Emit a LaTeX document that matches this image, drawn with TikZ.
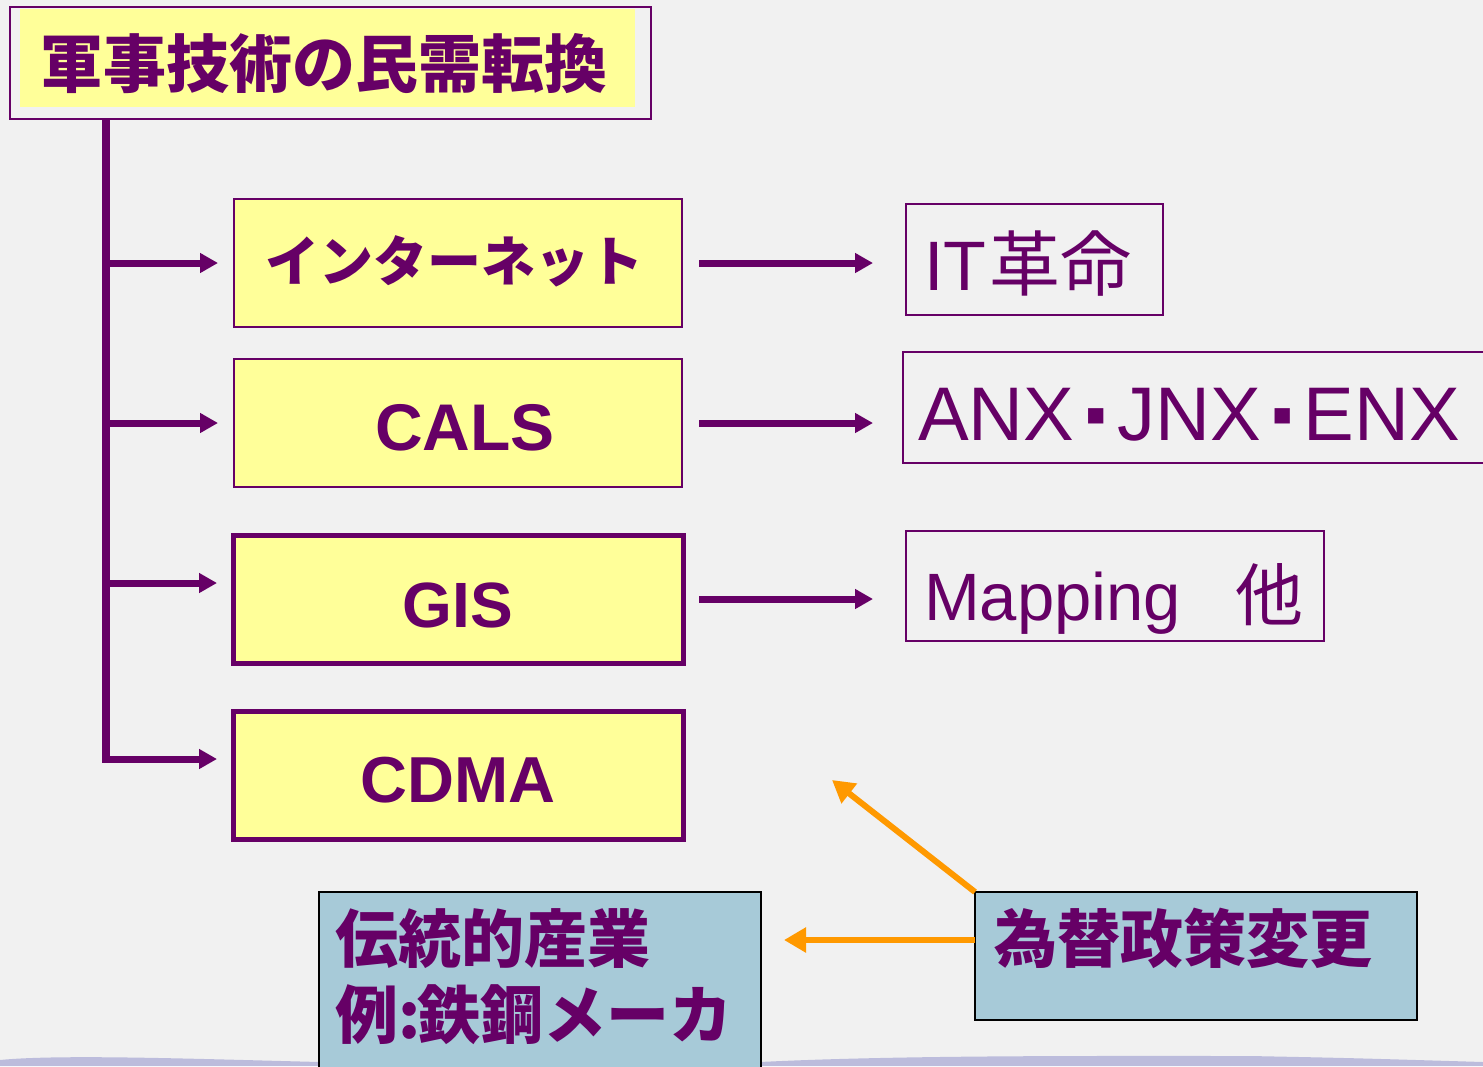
\documentclass[tikz,border=0pt]{standalone}
\usepackage{fontspec}
\setmainfont{Liberation Sans}
\newfontfamily\cjk{Noto Sans CJK JP}
\newfontfamily\lat{Liberation Sans}
\newfontfamily\dejavu{DejaVu Sans}
\usetikzlibrary{arrows.meta,calc}
\definecolor{pur}{HTML}{660066}
\definecolor{yel}{HTML}{FFFF99}
\definecolor{lblue}{HTML}{A7CAD8}
\definecolor{orng}{HTML}{FF9900}
\definecolor{bgc}{HTML}{F1F1F1}
\definecolor{wavec}{HTML}{BCBCDC}
\newcommand{\sqdot}{\hspace{12pt}\raisebox{19pt}{\dejavu\fontsize{20}{20}\selectfont ■}\hspace{12pt}}
\begin{document}
\begin{tikzpicture}[x=1pt,y=-1pt,
  every node/.style={inner sep=0pt,outer sep=0pt},
  boxbase/.style={rectangle,anchor=north west},
  thinbox/.style={boxbase,draw=pur,line width=2pt},
  yelthin/.style={thinbox,fill=yel},
  yelthick/.style={boxbase,draw=pur,line width=5pt,fill=yel},
  bluebox/.style={boxbase,draw=black,line width=2pt,fill=lblue},
  jtext/.style={text=pur,font=\cjk\bfseries\fontsize{63}{70}\selectfont,anchor=base west},
  ltext/.style={text=pur,font=\lat\bfseries\fontsize{65}{70}\selectfont,anchor=center},
  rtext/.style={text=pur,anchor=base west},
  trunkline/.style={draw=pur,line width=8pt},
  brarrow/.style={draw=pur,line width=7pt,-{Triangle[length=18pt,width=19pt]}},
  orarrow/.style={draw=orng,line width=6pt,-{Triangle[length=22pt,width=24pt]}}]
\useasboundingbox (0,0) rectangle (1483,1066);
\fill[bgc] (0,0) rectangle (1483,1066);
% bottom wave
\fill[wavec] (0,1066) -- (0,1060) .. controls (60,1054) and (200,1059) .. (320,1062)
  -- (760,1062) .. controls (900,1055) and (1100,1056) .. (1250,1056)
  .. controls (1350,1058) .. (1483,1062) -- (1483,1066) -- cycle;

% title
\fill[yel] (20,9) rectangle (635,107);
\node[thinbox,minimum width=641pt,minimum height=112pt] (title) at (10,7) {};
\node[jtext] (titletxt) at (40,87) {軍事技術の民需転換};

% left boxes
\node[yelthin,minimum width=448pt,minimum height=128pt] (inet) at (234,199) {};
\node[yelthin,minimum width=448pt,minimum height=128pt] (cals) at (234,359) {};
\node[yelthick,minimum width=450pt,minimum height=128pt] (gis) at (233,535) {};
\node[yelthick,minimum width=450pt,minimum height=128pt] (cdma) at (233,711) {};
\node[jtext,font=\cjk\bfseries\fontsize{54}{60}\selectfont] (inettxt) at (265,281) {インターネット};
\node[ltext,font=\lat\bfseries\fontsize{66}{70}\selectfont] (calstxt) at (465,428) {CALS};
\node[ltext,font=\lat\bfseries\fontsize{64}{70}\selectfont] (gistxt) at (458,605) {GIS};
\node[ltext] (cdmatxt) at (458,780) {CDMA};

% right boxes
\node[thinbox,minimum width=257pt,minimum height=111pt] (itrev) at (906,204) {};
\node[thinbox,minimum width=620pt,minimum height=111pt] (anx) at (903,352) {};
\node[thinbox,minimum width=418pt,minimum height=110pt] (map) at (906,531) {};
\node[rtext] (itrevtxt) at (924,290) {\lat\fontsize{70}{76}\selectfont IT\hspace{3pt}\cjk\fontsize{71}{76}\selectfont 革命};
\node[rtext] (anxtxt) at (918,440) {\lat\fontsize{76}{80}\selectfont ANX\sqdot JNX\sqdot ENX};
\node[rtext] (maptxt) at (924,620) {\lat\fontsize{67}{72}\selectfont Mapping\cjk\fontsize{68}{72}\selectfont\hspace{-14pt}　他};

% bottom boxes
\node[bluebox,minimum width=442pt,minimum height=200pt] (trad) at (319,892) {};
\node[bluebox,minimum width=442pt,minimum height=128pt] (policy) at (975,892) {};
\node[jtext] (tradtxt1) at (335,962) {伝統的産業};
\node[jtext] (tradtxt2) at (335,1038) {例:\hspace{-3pt}鉄鋼メーカ};
\node[jtext] (policytxt) at (994,962) {為替政策変更};

% trunk and branches
\coordinate (tend) at (106,763);
\draw[trunkline] ($(title.south west)+(96,0)$) -- (tend);
\draw[brarrow] (tend |- inet.west) -- ($(inet.west)+(-16,0)$);
\draw[brarrow] (tend |- cals.west) -- ($(cals.west)+(-16,0)$);
\draw[brarrow] ($(tend |- gis.west)+(0,-16)$) -- ($(gis.west)+(-16,-16)$);
\draw[brarrow] ($(tend |- cdma.west)+(0,-16)$) -- ($(cdma.west)+(-16,-16)$);

% right arrows
\draw[brarrow] ($(inet.east)+(17,0)$) -- ($(itrev.west |- inet.east)+(-33,0)$);
\draw[brarrow] ($(cals.east)+(17,0)$) -- ($(anx.west |- cals.east)+(-30,0)$);
\draw[brarrow] ($(gis.east)+(16,0)$) -- ($(map.west |- gis.east)+(-33,0)$);

% orange arrows
\coordinate (dtip) at (832,780);
\draw[orarrow] ($(policy.west)+(0,-16)$) -- ($(trad.east |- policy.west)+(23,-16)$);
\draw[orarrow] (policy.north west) -- (dtip);
\end{tikzpicture}
\end{document}
